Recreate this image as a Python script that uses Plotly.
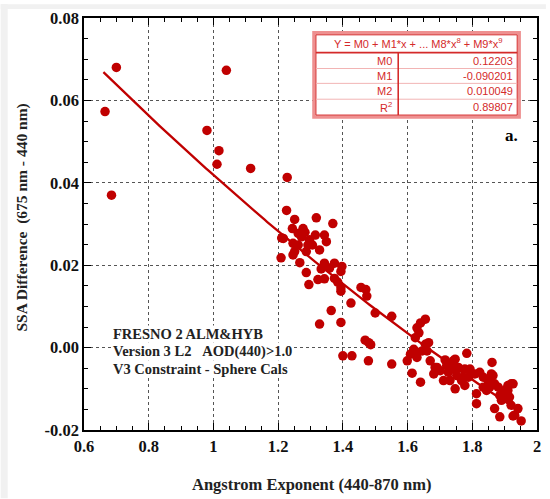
import numpy as np
import plotly.graph_objects as go

# Angstrom exponent (440-870 nm) for each retrieval
angstrom = [
    0.665, 0.700, 0.685, 0.980, 1.040, 1.017, 1.011, 1.115, 1.228,
    1.226, 1.251, 1.318, 1.369, 1.244, 1.277, 1.211, 1.315, 1.343, 1.262,
    1.272, 1.349, 1.246, 1.262, 1.292, 1.306, 1.328, 1.251, 1.287, 1.209,
    1.246, 1.267, 1.343, 1.374, 1.397, 1.333, 1.359, 1.394, 1.287, 1.323,
    1.343, 1.374, 1.384, 1.295, 1.394, 1.394, 1.456, 1.471, 1.474, 1.425,
    1.364, 1.500, 1.551, 1.328, 1.394, 1.469, 1.480, 1.486, 1.400, 1.428,
    1.479, 1.551, 1.216, 1.283, 1.297,
    1.655, 1.640, 1.629, 1.635, 1.624, 1.665, 1.655, 1.619, 1.629, 1.645,
    1.660, 1.609, 1.599, 1.629, 1.670, 1.783, 1.716, 1.747, 1.691, 1.701,
    1.721, 1.737, 1.757, 1.614, 1.681, 1.711, 1.731, 1.752, 1.767, 1.793,
    1.788, 1.640, 1.747, 1.777,
    1.861, 1.777, 1.808, 1.823, 1.834, 1.849, 1.864, 1.772, 1.869, 1.880,
    1.920, 1.910, 1.895, 1.915, 1.890, 1.813, 1.813, 1.869, 1.885, 1.941,
    1.931, 1.951, 1.920, 1.834, 1.844, 1.854,
    1.685, 1.726, 1.741, 1.798, 1.859, 1.854, 1.885, 1.900, 1.910, 1.926,
    1.910, 1.926,
]

# SSA difference (675 nm - 440 nm) for each retrieval
ssa_diff = [
    0.0573, 0.0680, 0.0370, 0.0527, 0.0673, 0.0478, 0.0445, 0.0435, 0.0413,
    0.0333, 0.0311, 0.0315, 0.0301, 0.0289, 0.0289, 0.0266, 0.0273, 0.0273, 0.0277,
    0.0269, 0.0257, 0.0253, 0.0249, 0.0249, 0.0249, 0.0237, 0.0233, 0.0233, 0.0218,
    0.0225, 0.0206, 0.0205, 0.0205, 0.0197, 0.0191, 0.0193, 0.0185, 0.0182, 0.0165,
    0.0167, 0.0168, 0.0159, 0.0153, 0.0145, 0.0137, 0.0146, 0.0141, 0.0125, 0.0108,
    0.0090, 0.0084, 0.0076, 0.0057, 0.0061, 0.0018, 0.0012, 0.0007, -0.0020, -0.0020,
    -0.0032, -0.0040, 0.0265, 0.0280, 0.0262,
    0.0069, 0.0060, 0.0048, 0.0036, 0.0024, 0.0012, 0.0008, -0.0004, -0.0012, -0.0008,
    -0.0008, -0.0016, -0.0032, -0.0024, -0.0032, -0.0014, -0.0030, -0.0028, -0.0048, -0.0056,
    -0.0044, -0.0052, -0.0048, -0.0062, -0.0064, -0.0080, -0.0080, -0.0068, -0.0080, -0.0052,
    -0.0072, -0.0084, -0.0100, -0.0092,
    -0.0036, -0.0052, -0.0064, -0.0060, -0.0072, -0.0080, -0.0068, -0.0072, -0.0088, -0.0096,
    -0.0088, -0.0104, -0.0112, -0.0120, -0.0128, -0.0112, -0.0136, -0.0148, -0.0168, -0.0148,
    -0.0164, -0.0178, -0.0140, -0.0096, -0.0104, -0.0096,
    -0.0048, -0.0060, -0.0032, -0.0064, -0.0064, -0.0092, -0.0116, -0.0104, -0.0092, -0.0088,
    -0.0124, -0.0166,
]

# Polynomial fit Y = M0 + M1*x + M2*x^2
fit_names = ["M0", "M1", "M2"]
fit_coefs = [0.12203, -0.090201, 0.010049]
r_squared = 0.89807
fit_range = [0.66, 1.95]

x_ticks = [0.6, 0.8, 1.0, 1.2, 1.4, 1.6, 1.8, 2.0]
x_tick_labels = ["0.6", "0.8", "1", "1.2", "1.4", "1.6", "1.8", "2"]
y_ticks = [-0.02, 0.0, 0.02, 0.04, 0.06, 0.08]
y_tick_labels = ["-0.02", "0.00", "0.02", "0.04", "0.06", "0.08"]

info_lines = [
    "FRESNO 2 ALM&amp;HYB",
    "Version 3 L2\u00a0\u00a0\u00a0AOD(440)&gt;1.0",
    "V3 Constraint - Sphere Cals",
]

RED = "#c00000"
TABLE_RED = "#d42a2a"
SERIF = "Liberation Serif"
SANS = "Liberation Sans"

W, H = 550, 499
ML, MR, MT, MB = 84, 9, 14, 69
PW, PH = W - ML - MR, H - MT - MB


def px(xp):
    return (xp - ML) / PW


def py(yp):
    return (H - MB - yp) / PH


fit_x = np.linspace(fit_range[0], fit_range[1], 200)
fit_y = sum(c * fit_x ** i for i, c in enumerate(fit_coefs))

fig = go.Figure()
fig.add_trace(go.Scatter(
    x=fit_x, y=fit_y, mode="lines",
    line=dict(color=RED, width=2.3), hoverinfo="skip", showlegend=False,
))
fig.add_trace(go.Scatter(
    x=angstrom, y=ssa_diff, mode="markers",
    marker=dict(color=RED, size=9.5, line=dict(width=0)), showlegend=False,
))

shapes = []
# light frame on the page edge
shapes.append(dict(type="rect", xref="paper", yref="paper",
                   x0=px(0), x1=px(7), y0=py(H), y1=py(0),
                   fillcolor="#f1f1f1", line=dict(width=0), layer="below"))
shapes.append(dict(type="rect", xref="paper", yref="paper",
                   x0=px(0), x1=px(W), y0=py(5), y1=py(0),
                   fillcolor="#f1f1f1", line=dict(width=0), layer="below"))

# coefficient table
tx0, tx1, ty0, ty1 = 316, 523, 29, 114
shapes.append(dict(type="rect", xref="paper", yref="paper",
                   x0=px(tx0), x1=px(tx1), y0=py(ty1), y1=py(ty0),
                   fillcolor="white", line=dict(color="#ee9090", width=3.5)))
shapes.append(dict(type="rect", xref="paper", yref="paper",
                   x0=px(tx0 + 2), x1=px(tx1 - 2), y0=py(ty1 - 2), y1=py(ty0 + 2),
                   line=dict(color=TABLE_RED, width=1)))
row_lines = [49, 65, 80, 96]
for i, yl in enumerate(row_lines):
    shapes.append(dict(type="line", xref="paper", yref="paper",
                       x0=px(tx0 + 2), x1=px(tx1 - 2), y0=py(yl), y1=py(yl),
                       line=dict(color=TABLE_RED if i == 0 else "#f2b4b4",
                                 width=1.6 if i == 0 else 1)))
shapes.append(dict(type="line", xref="paper", yref="paper",
                   x0=px(401), x1=px(401), y0=py(ty1 - 2), y1=py(49),
                   line=dict(color=TABLE_RED, width=1.6)))

annotations = []
tfont = dict(family=SANS, size=11, color=TABLE_RED)
annotations.append(dict(
    xref="paper", yref="paper", x=px(421), y=py(39),
    text="Y = M0 + M1*x + ... M8*x<sup>8</sup> + M9*x<sup>9</sup>",
    showarrow=False, font=tfont, xanchor="center", yanchor="middle"))
row_names = fit_names + ["R<sup>2</sup>"]
row_vals = [f"{c:g}" for c in fit_coefs] + [f"{r_squared:g}"]
row_centers = [57, 73, 88, 104]
for name, val, yc in zip(row_names, row_vals, row_centers):
    annotations.append(dict(xref="paper", yref="paper", x=px(397), y=py(yc),
                            text=name, showarrow=False, font=tfont,
                            xanchor="right", yanchor="middle"))
    annotations.append(dict(xref="paper", yref="paper", x=px(519), y=py(yc),
                            text=val, showarrow=False, font=tfont,
                            xanchor="right", yanchor="middle"))

annotations.append(dict(xref="paper", yref="paper", x=px(524), y=py(133),
                        text="a.", showarrow=False,
                        font=dict(family=SERIF, size=17, color="black", weight="bold"),
                        xanchor="right", yanchor="middle"))

# station / dataset description
for line, yc in zip(info_lines, [333, 351, 368]):
    annotations.append(dict(
        xref="paper", yref="paper", x=px(112), y=py(yc),
        text=line, showarrow=False, align="left", xanchor="left", yanchor="middle",
        bgcolor="white", borderpad=0,
        font=dict(family=SERIF, size=14.5, color="#222222", weight="bold")))

# axis titles
title_font = dict(family=SERIF, size=16.5, color="#222222", weight="bold")
annotations.append(dict(xref="paper", yref="paper", x=px(314), y=py(485),
                        text="Angstrom Exponent (440-870 nm)", showarrow=False,
                        xanchor="center", yanchor="middle", font=title_font))
annotations.append(dict(xref="paper", yref="paper", x=px(22), y=py(216),
                        text="SSA Difference\u00a0\u00a0(675 nm - 440 nm)", showarrow=False,
                        textangle=-90, xanchor="center", yanchor="middle",
                        font=dict(title_font, size=15.5)))

axis_common = dict(
    showline=True, linecolor="black", linewidth=1.5, mirror="allticks",
    ticks="inside", ticklen=7, tickwidth=1.2, tickcolor="black",
    showgrid=True, gridcolor="#555555", gridwidth=1, griddash="dot",
    zeroline=False,
    tickfont=dict(family=SERIF, size=16.5, color="#111111", weight="bold"),
)

fig.update_layout(
    width=W, height=H,
    margin=dict(l=ML, r=MR, t=MT, b=MB),
    paper_bgcolor="white", plot_bgcolor="white",
    shapes=shapes, annotations=annotations,
    xaxis=dict(
        range=[0.6, 2.0], tickvals=x_ticks, ticktext=x_tick_labels,
        minor=dict(dtick=0.05, ticks="inside", ticklen=4, tickcolor="black", showgrid=False),
        **axis_common,
    ),
    yaxis=dict(
        range=[-0.02, 0.08], tickvals=y_ticks, ticktext=y_tick_labels,
        minor=dict(dtick=0.005, ticks="inside", ticklen=4, tickcolor="black", showgrid=False),
        **axis_common,
    ),
)

fig.write_html("out.html")
